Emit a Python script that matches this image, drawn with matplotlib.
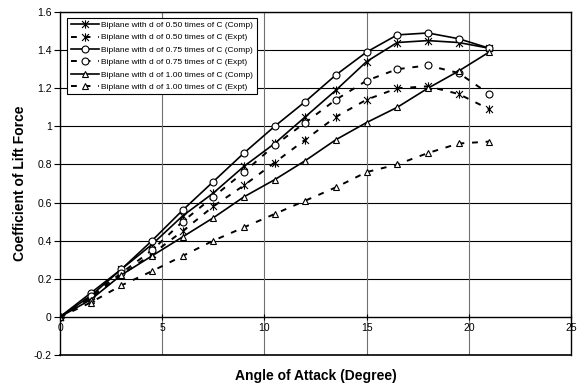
import matplotlib.pyplot as plt
from matplotlib.path import Path

plt.rcParams['font.family'] = ['Liberation Sans', 'DejaVu Sans']

# angle of attack (degree)
aoa = [0, 1.5, 3, 4.5, 6, 7.5, 9, 10.5, 12, 13.5, 15, 16.5, 18, 19.5, 21]

# lift coefficient
cl_050_comp = [0, 0.11, 0.25, 0.38, 0.53, 0.65, 0.79, 0.91, 1.05, 1.19, 1.34, 1.44, 1.45, 1.44, 1.41]
cl_050_expt = [0, 0.10, 0.22, 0.33, 0.45, 0.58, 0.69, 0.81, 0.93, 1.05, 1.14, 1.20, 1.21, 1.17, 1.09]
cl_075_comp = [0, 0.125, 0.25, 0.40, 0.56, 0.71, 0.86, 1.00, 1.13, 1.27, 1.39, 1.48, 1.49, 1.46, 1.41]
cl_075_expt = [0, 0.11, 0.23, 0.35, 0.50, 0.63, 0.76, 0.90, 1.02, 1.14, 1.24, 1.30, 1.32, 1.28, 1.17]
cl_100_comp = [0, 0.09, 0.22, 0.32, 0.42, 0.52, 0.63, 0.72, 0.82, 0.93, 1.02, 1.10, 1.20, 1.29, 1.39]
cl_100_expt = [0, 0.075, 0.165, 0.24, 0.32, 0.40, 0.47, 0.54, 0.61, 0.68, 0.76, 0.80, 0.86, 0.91, 0.92]

labels = ["Biplane with d of 0.50 times of C (Comp)",
          "Biplane with d of 0.50 times of C (Expt)",
          "Biplane with d of 0.75 times of C (Comp)",
          "Biplane with d of 0.75 times of C (Expt)",
          "Biplane with d of 1.00 times of C (Comp)",
          "Biplane with d of 1.00 times of C (Expt)"]

fig = plt.figure(figsize=(5.82, 3.89), dpi=100)
ax = fig.add_axes([0.1031, 0.0874, 0.8780, 0.8817])

# excel style asterisk: an X with a vertical bar
star = Path([(-1, -1), (1, 1), (-1, 1), (1, -1), (0, -1.2), (0, 1.2)],
            [Path.MOVETO, Path.LINETO, Path.MOVETO, Path.LINETO, Path.MOVETO, Path.LINETO])
dash = (3, 4)
common = dict(color='k', markerfacecolor='white', markeredgecolor='k', markeredgewidth=0.8)

ax.plot(aoa, cl_050_comp, '-', marker=star, ms=6, lw=1.2, label=labels[0], **common)
ax.plot(aoa, cl_050_expt, '--', dashes=dash, marker=star, ms=6, lw=1.4, label=labels[1], **common)
ax.plot(aoa, cl_075_comp, '-', marker='o', ms=5, lw=1.2, label=labels[2], **common)
ax.plot(aoa, cl_075_expt, '--', dashes=dash, marker='o', ms=5, lw=1.4, label=labels[3], **common)
ax.plot(aoa, cl_100_comp, '-', marker='^', ms=5, lw=1.2, label=labels[4], **common)
ax.plot(aoa, cl_100_expt, '--', dashes=dash, marker='^', ms=5, lw=1.4, label=labels[5], **common)

ax.set_xlim(0, 25)
ax.set_ylim(-0.2, 1.6)
ax.set_xticks([0, 5, 10, 15, 20, 25])
ax.set_yticks([-0.2, 0, 0.2, 0.4, 0.6, 0.8, 1, 1.2, 1.4, 1.6])
ax.set_yticklabels(['-0.2', '0', '0.2', '0.4', '0.6', '0.8', '1', '1.2', '1.4', '1.6'])

# gridlines
for y in [0.2, 0.4, 0.6, 0.8, 1.0, 1.2, 1.4, 1.6]:
    ax.axhline(y, color='k', lw=0.8, zorder=0)
for x in [5, 10, 15, 20]:
    ax.axvline(x, color='#707070', lw=0.8, zorder=0)

# x axis crosses at 0, box keeps its bottom edge at -0.2
ax.spines['bottom'].set_position(('data', 0))
ax.spines['bottom'].set_linewidth(1.0)
ax.plot([0, 1], [0, 0], transform=ax.transAxes, color='k', lw=1.2, clip_on=False)
for s in ['left', 'right', 'top']:
    ax.spines[s].set_linewidth(1.0)
ax.tick_params(axis='x', direction='inout', length=5, labelsize=7.5, pad=2)
ax.tick_params(axis='y', direction='out', length=4, labelsize=7.5, pad=2)

ax.set_xlabel('Angle of Attack (Degree)', fontsize=10, fontweight='bold')
ax.xaxis.set_label_coords(0.5, -0.04)
ax.set_ylabel('Coefficient of Lift Force', fontsize=10, fontweight='bold')
ax.yaxis.set_label_coords(-0.064, 0.5)

leg = ax.legend(loc='upper left', bbox_to_anchor=(0.006, 0.995), fontsize=6, handlelength=3.4,
                frameon=True, fancybox=False, edgecolor='k', framealpha=1,
                borderpad=0.4, labelspacing=0.55, handletextpad=0.3)
leg.get_frame().set_linewidth(0.8)

fig.savefig('out.png', dpi=100)
